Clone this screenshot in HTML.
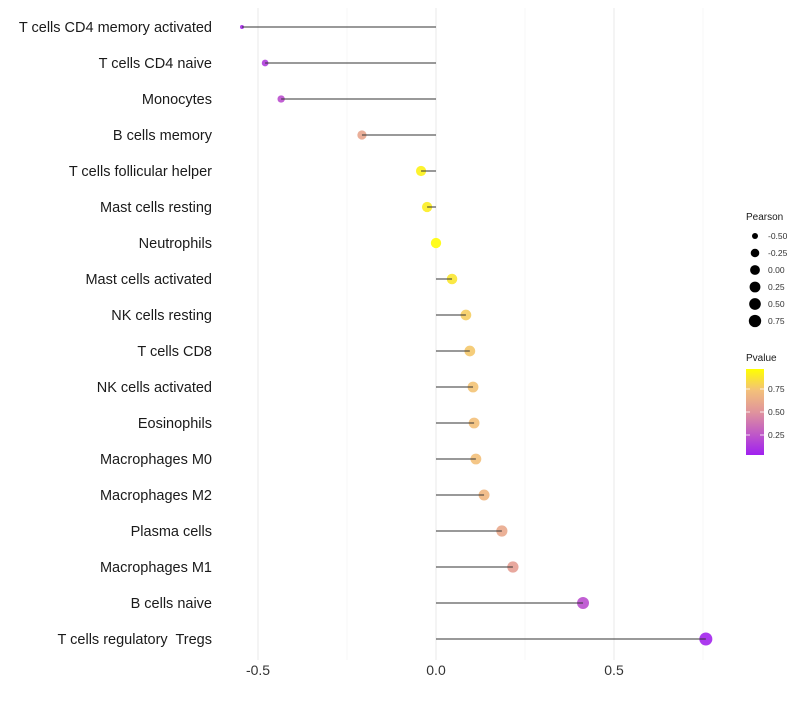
<!DOCTYPE html>
<html><head><meta charset="utf-8"><style>
body{margin:0;background:#fff;font-family:"Liberation Sans",sans-serif;}
text{white-space:pre;}
</style></head><body>
<svg id="chart" width="800" height="700" xmlns="http://www.w3.org/2000/svg" font-family="Liberation Sans, sans-serif">
<defs><linearGradient id="pg" x1="0" y1="1" x2="0" y2="0">
<stop offset="0" stop-color="#a020f0"/><stop offset="0.5" stop-color="#e0949c"/><stop offset="0.75" stop-color="#f3c07a"/><stop offset="1" stop-color="#ffff00"/></linearGradient></defs>
<g id="grid"></g><g id="marks"></g><g id="labels"></g><g id="legend"></g>
</svg>
<script>
const categories=["T cells CD4 memory activated","T cells CD4 naive","Monocytes","B cells memory","T cells follicular helper","Mast cells resting","Neutrophils","Mast cells activated","NK cells resting","T cells CD8","NK cells activated","Eosinophils","Macrophages M0","Macrophages M2","Plasma cells","Macrophages M1","B cells naive","T cells regulatory  Tregs"];
const pearson=[-0.545,-0.48,-0.435,-0.208,-0.042,-0.025,0.0,0.045,0.084,0.095,0.104,0.107,0.112,0.135,0.185,0.216,0.413,0.758];
const pvalue=[0.04,0.12,0.2,0.6,0.95,0.93,0.99,0.9,0.8,0.78,0.76,0.75,0.75,0.7,0.62,0.56,0.2,0.02];
const xTicks=[-0.5,0,0.5];
const xTickLabels=["-0.5","0.0","0.5"];
const sizeLegend=[-0.5,-0.25,0,0.25,0.5,0.75];
const colorLegend=[0.25,0.5,0.75];

const NS="http://www.w3.org/2000/svg";
const x=v=>436+v*356;
const y=i=>27+i*36;
const rad=v=>2+4.5*Math.pow(Math.max(0,(v+0.545)/1.3),0.4);
const stops=[[0,[160,32,240]],[0.5,[224,148,156]],[0.75,[243,192,122]],[1,[255,255,0]]];
function col(p){for(let k=1;k<stops.length;k++){if(p<=stops[k][0]){const a=stops[k-1],b=stops[k],t=(p-a[0])/(b[0]-a[0]);return "rgb("+a[1].map((c,j)=>Math.round(c+(b[1][j]-c)*t)).join(",")+")";}}return "rgb(255,255,0)";}
function mk(tag,at,parent){const e=document.createElementNS(NS,tag);for(const k in at)e.setAttribute(k,at[k]);document.getElementById(parent).appendChild(e);return e;}

[-0.25,0.25,0.75].forEach(v=>{const l=mk("line",{x1:x(v),x2:x(v),y1:8,y2:660,stroke:"#f7f7f7","stroke-width":1},"grid");

});
xTicks.forEach((v,i)=>{const l=mk("line",{x1:x(v),x2:x(v),y1:8,y2:660,stroke:"#f1f1f1","stroke-width":1.5},"grid");


const t=mk("text",{x:x(v),y:675,"text-anchor":"middle","font-size":14,fill:"#333"},"labels");t.textContent=xTickLabels[i];

});

categories.forEach((c,i)=>{
const t=mk("text",{x:212,y:y(i)+5,"text-anchor":"end","font-size":14.5,fill:"#1a1a1a"},"labels");t.textContent=c;


const d=mk("circle",{cx:x(pearson[i]),cy:y(i),r:rad(pearson[i]),fill:col(pvalue[i]),"fill-opacity":0.9},"marks");


const l=mk("line",{x1:x(0),x2:x(pearson[i]),y1:y(i),y2:y(i),stroke:"#333","stroke-width":1},"marks");


});

const lt=mk("text",{x:746,y:220,"font-size":10,fill:"#1a1a1a"},"legend");lt.textContent="Pearson";


sizeLegend.forEach((v,i)=>{const cy=236+i*17;
const c=mk("circle",{cx:755,cy:cy,r:rad(v)*0.95,fill:"#000"},"legend");


const t=mk("text",{x:768,y:cy+3,"font-size":8.5,fill:"#333"},"legend");t.textContent=v.toFixed(2);

});
const pt=mk("text",{x:746,y:361,"font-size":10,fill:"#1a1a1a"},"legend");pt.textContent="Pvalue";


const bar=mk("rect",{x:746,y:369,width:18,height:86,fill:"url(#pg)"},"legend");


colorLegend.forEach(v=>{const cy=458-v*92;
mk("line",{x1:746,x2:750,y1:cy,y2:cy,stroke:"#fff","stroke-width":0.8},"legend");
mk("line",{x1:760,x2:764,y1:cy,y2:cy,stroke:"#fff","stroke-width":0.8},"legend");
const t=mk("text",{x:768,y:cy+3,"font-size":8.5,fill:"#333"},"legend");t.textContent=v.toFixed(2);

});
</script>
</body></html>
